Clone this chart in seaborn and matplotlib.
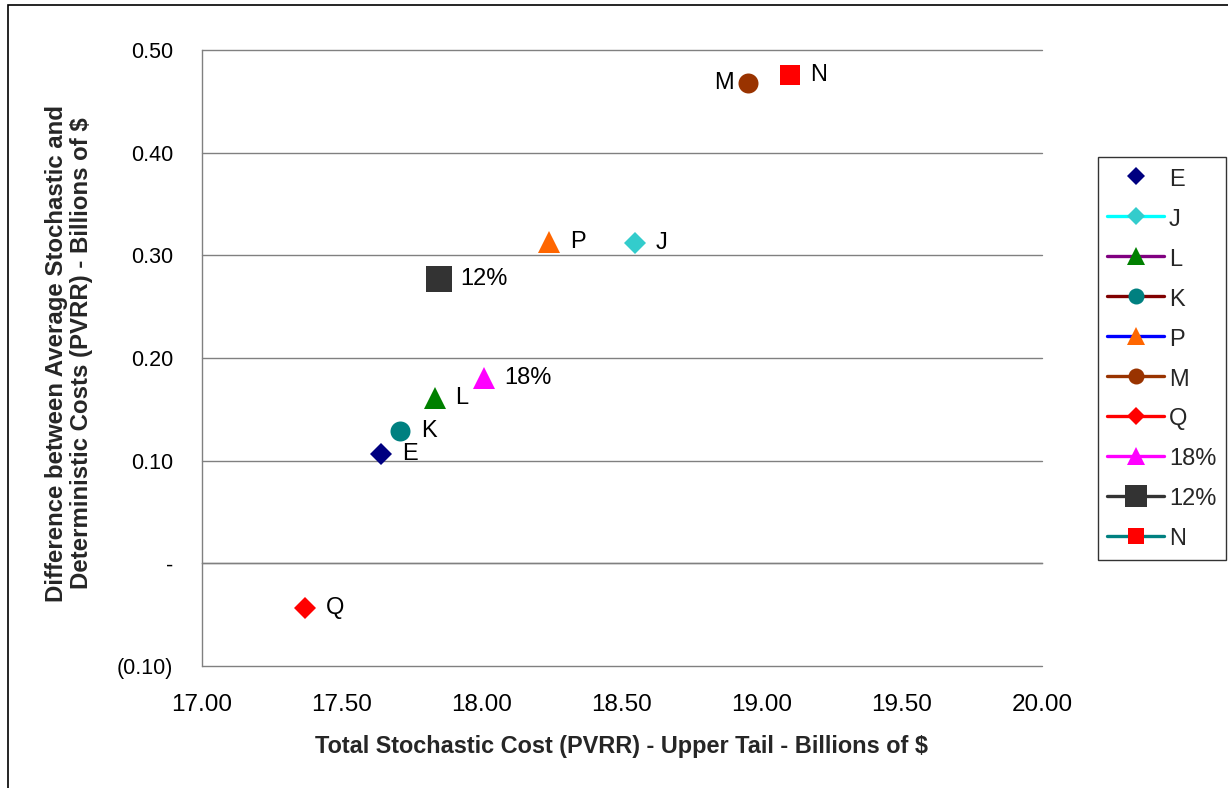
import matplotlib
matplotlib.use("Agg")
import matplotlib.pyplot as plt
import seaborn as sns
from matplotlib.patches import Rectangle

# Portfolio results: upper-tail stochastic cost vs. stochastic-minus-deterministic cost
portfolios = ["E", "J", "L", "K", "P", "M", "Q", "18%", "12%", "N"]
upper_tail_cost = [17.640, 18.547, 17.832, 17.708, 18.240, 18.949, 17.369, 18.007, 17.849, 19.099]
cost_difference = [0.1067, 0.3120, 0.1613, 0.1289, 0.3127, 0.4676, -0.0437, 0.1805, 0.2766, 0.4760]

x_ticks = [17.0, 17.5, 18.0, 18.5, 19.0, 19.5, 20.0]
x_tick_labels = ["17.00", "17.50", "18.00", "18.50", "19.00", "19.50", "20.00"]
y_ticks = [-0.10, 0.0, 0.10, 0.20, 0.30, 0.40, 0.50]
y_tick_labels = ["(0.10)", "-", "0.10", "0.20", "0.30", "0.40", "0.50"]

x_title = "Total Stochastic Cost (PVRR) - Upper Tail - Billions of $"
y_title = "Difference between Average Stochastic and\nDeterministic Costs (PVRR) - Billions of $"

# marker shape, marker size (pt), marker colour, legend line colour
series_style = {
    "E":   ("D", 11.2, "#000080", None),
    "J":   ("D", 11.2, "#33CCCC", "#00FFFF"),
    "L":   ("^", 15.5, "#008000", "#800080"),
    "K":   ("o", 14.4, "#008080", "#800000"),
    "P":   ("^", 15.5, "#FF6600", "#0000FF"),
    "M":   ("o", 14.4, "#993300", "#993300"),
    "Q":   ("D", 11.2, "#FF0000", "#FF0000"),
    "18%": ("^", 15.5, "#FF00FF", "#FF00FF"),
    "12%": ("s", 19.2, "#333333", "#333333"),
    "N":   ("s", 13.9, "#FF0000", "#008080"),
}
left_labels = {"M"}

sns.set_style("white")
plt.rcParams["font.family"] = ["Liberation Sans", "DejaVu Sans"]

fig = plt.figure(figsize=(12.28, 7.88), dpi=100)
ax = fig.add_axes([201.5 / 1228, 1 - 666 / 788, (1042 - 201.5) / 1228, (666 - 50) / 788])

for name, xv, yv in zip(portfolios, upper_tail_cost, cost_difference):
    marker, ms, mcolor, lcolor = series_style[name]
    sns.lineplot(
        x=[xv], y=[yv], ax=ax, errorbar=None,
        color=lcolor if lcolor else mcolor,
        linestyle="-" if lcolor else "none", linewidth=2.4,
        marker=marker, markersize=ms, markerfacecolor=mcolor,
        markeredgecolor=mcolor, markeredgewidth=0, label=name, zorder=3,
    )
    if name in left_labels:
        ax.annotate(name, (xv, yv), xytext=(-10, 0), textcoords="offset points",
                    ha="right", va="center", fontsize=17, color="black")
    else:
        ax.annotate(name, (xv, yv), xytext=(15, 0), textcoords="offset points",
                    ha="left", va="center", fontsize=17, color="black")

ax.set_xlim(17.0, 20.0)
ax.set_ylim(-0.10, 0.50)

# horizontal gridlines only
ax.set_axisbelow(True)
ax.yaxis.grid(True, color="#808080", linewidth=1.0)
ax.xaxis.grid(False)
for gl in ax.get_ygridlines():
    gl.set_clip_on(False)

for side in ("top", "right"):
    ax.spines[side].set_visible(False)
ax.spines["left"].set_color("#808080")
ax.spines["left"].set_linewidth(1.0)
ax.spines["bottom"].set_position(("data", 0))
ax.spines["bottom"].set_color("#808080")
ax.spines["bottom"].set_linewidth(1.0)

ax.set_yticks(y_ticks, y_tick_labels)
ax.set_xticks(x_ticks)
ax.tick_params(axis="y", direction="out", length=3.6, width=1.0, color="#808080",
               labelsize=15.5, pad=17, labelcolor="black")
ax.tick_params(axis="x", direction="out", length=5.8, width=1.0, color="#808080",
               labelbottom=False)

# value labels sit below the plot area, while the axis line crosses at zero
sec = ax.secondary_xaxis("bottom")
sec.set_xticks(x_ticks, x_tick_labels)
sec.tick_params(length=0, labelsize=17.5, pad=20, labelcolor="black")
sec.spines["bottom"].set_visible(False)

ax.set_xlabel(x_title, fontsize=16.9, fontweight="bold")
ax.xaxis.set_label_coords(0.5, -0.112)
ax.set_ylabel(y_title, fontsize=17.3, fontweight="bold", linespacing=1.1)
ax.yaxis.set_label_coords(-0.1295, 0.508)

handles, labels = ax.get_legend_handles_labels()
leg = ax.legend(
    handles, labels, loc="upper left",
    bbox_to_anchor=(1098 / 1228, 1 - 157 / 788), bbox_transform=fig.transFigure,
    borderaxespad=0, frameon=True, fancybox=False, edgecolor="black",
    fontsize=17, labelspacing=0.66, handlelength=2.4, handleheight=1.1,
    handletextpad=0.2, borderpad=0.4, markerscale=0.8,
)
leg.get_frame().set_linewidth(1.0)

# chart-area border
fig.add_artist(Rectangle((8 / 1228, -0.05), 1.0, 1.05 - 5 / 788,
                         transform=fig.transFigure, fill=False,
                         edgecolor="black", linewidth=1.2, clip_on=False))

fig.savefig("out.png", dpi=100)
